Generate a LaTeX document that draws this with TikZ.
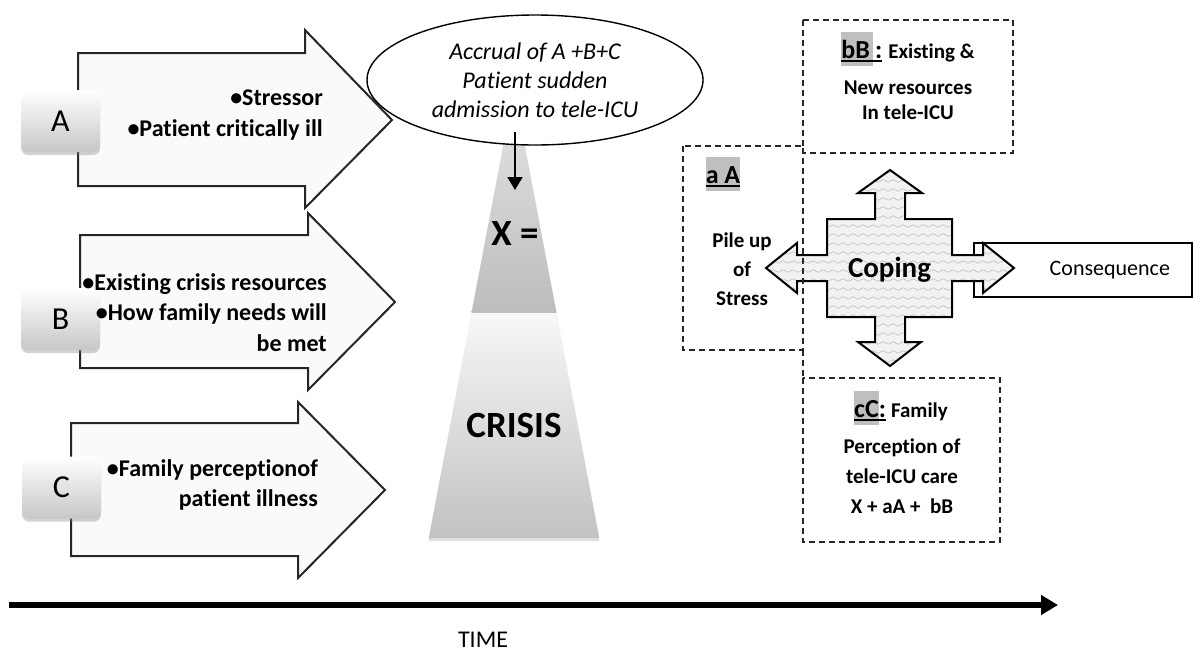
\documentclass[tikz,border=0pt]{standalone}
\usepackage{fontspec}
\setmainfont{Carlito}[Ligatures=NoCommon]
\usetikzlibrary{shapes.geometric,arrows.meta,shadows,decorations.pathmorphing}
\newcommand\fsz[2]{\fontsize{#1}{#2}\selectfont}
\definecolor{hl}{HTML}{BFBFBF}
\definecolor{edge}{HTML}{262626}
\newcommand\hlul[2]{%
  \setbox0=\hbox{{\setlength\fboxsep{0pt}\colorbox{hl}{\rule[-0.3em]{0pt}{1.3em}#1}}#2}%
  \dimen0=\wd0
  \box0\hspace{-\dimen0}\rule[-0.16em]{\dimen0}{0.07em}}
\begin{document}
\begin{tikzpicture}[x=1pt,y=-1pt,
  bigarrow/.style={draw=edge, line width=2pt, fill=black!2, line join=miter},
  letterbox/.style={rounded corners=7pt, top color=white, bottom color=black!22, draw=none,
    drop shadow={opacity=0.35,shadow xshift=0pt,shadow yshift=-3pt},
    minimum width=79pt, minimum height=62pt, inner sep=0pt, font=\fsz{32}{36}},
  bullets/.style={inner sep=0pt, align=right, font=\bfseries\fsz{24}{30.5}},
  dashedbox/.style={draw=black!85, line width=1.6pt, dash pattern=on 6pt off 4pt},
  boldtxt/.style={inner sep=0pt, align=center, font=\bfseries\fsz{21}{25}},
  crossp/.style={insert path={(890,170) -- (922,193) -- (905,193) -- (905,219) -- (952,219) -- (952,255)
     -- (983,255) -- (983,243) -- (1014,268) -- (983,293) -- (983,281) -- (952,281) -- (952,317)
     -- (905,317) -- (905,342) -- (921,342) -- (890,366) -- (858,342) -- (875,342) -- (875,317)
     -- (827,317) -- (827,281) -- (797,281) -- (797,293) -- (766,268) -- (797,243) -- (797,255)
     -- (827,255) -- (827,219) -- (875,219) -- (875,193) -- (858,193) -- cycle}},
  wavy/.style={draw=black!25, line width=0.6pt, decorate,
     decoration={snake, amplitude=1.3pt, segment length=10pt}}
]
\useasboundingbox (0,0) rectangle (1202,654);

% left arrows
\draw[bigarrow] (78,53) -- (305,53) -- (305,30) -- (392,120) -- (305,208) -- (305,186) -- (78,186) -- cycle;
\draw[bigarrow] (80,235) -- (308,235) -- (308,213) -- (395,302) -- (308,390) -- (308,368) -- (80,368) -- cycle;
\draw[bigarrow] (71,423) -- (298,423) -- (298,402) -- (385,490) -- (298,578) -- (298,556) -- (71,556) -- cycle;

\node[letterbox] (boxA) at (60.5,121) {A};
\node[letterbox] (boxB) at (60.5,319) {B};
\node[letterbox] (boxC) at (61.5,487.5) {C};

\node[bullets, anchor=east] (tA) at (323,115) {•Stressor\\•Patient critically ill};
\node[bullets, anchor=east] (tB) at (327,312.5) {•Existing crisis resources\\•How family needs will\\be met};
\node[bullets, anchor=east] (tC) at (318,485) {•Family perceptionof\\patient illness};

% crisis triangle
\path[top color=black!10, bottom color=black!26] (514,89) -- (556.6,313) -- (471.4,313) -- cycle;
\path[top color=black!3, bottom color=black!24,
  drop shadow={opacity=0.25,shadow xshift=0pt,shadow yshift=-3pt}]
  (471.4,313) -- (556.6,313) -- (599.3,538) -- (428.7,538) -- cycle;
\node[inner sep=0pt, font=\bfseries\fsz{37}{40}] (X) at (515,233) {X =};
\node[inner sep=0pt, font=\bfseries\fsz{37}{40}] (crisis) at (514,425) {CRISIS};

% ellipse
\node[draw, ellipse, line width=1.4pt, fill=white, minimum width=336pt, minimum height=130pt,
  inner sep=0pt, align=center, font=\itshape\fsz{24}{29}] (ell) at (535,80)
  {Accrual of A +B+C\\Patient sudden\\admission to tele-ICU};
\coordinate (arrS) at (515,132);
\coordinate (arrE) at (515,190);
\draw[line width=2pt, -{Triangle[length=13pt,width=15pt]}] (arrS) -- (arrE);

% consequence box
\node[draw, line width=2pt, minimum height=54pt, text width=174pt, inner xsep=22pt, inner ysep=0pt,
  align=right, font=\fsz{22}{26}] (cons) at (1083,270) {Consequence};

% coping cross
\fill[black!5, crossp];
\begin{scope}
  \clip[crossp];
  \foreach \yy in {172,181,...,370} {\draw[wavy] (760,\yy) -- (1020,\yy);}
\end{scope}
\draw[line width=2pt, line join=miter, crossp];
\node[inner sep=0pt, font=\bfseries\fsz{29}{32}] (coping) at (889.5,270) {Coping};
\node[boldtxt, font=\bfseries\fsz{21}{29}] (pile) at (742,269) {Pile up\\of\\Stress};

% dashed boxes
\draw[dashedbox] (803,20) rectangle (1013,153);
\draw[dashedbox] (683,146) rectangle (803,350);
\draw[dashedbox] (803,350) -- (803,378);
\draw[dashedbox] (803,378) rectangle (1000,542);

\node[inner sep=0pt, anchor=base, font=\bfseries] (bB1) at (908,58)
  {{\fsz{26}{31}\hlul{bB\hspace{0.12em}}{\hspace{0.08em}:}}\hspace{6pt}{\fsz{21}{25}Existing \&}};
\node[boldtxt] (bB2) at (908,100) {New resources\\In tele-ICU};

\node[inner sep=0pt, anchor=base, font=\bfseries\fsz{26}{31}] (aA) at (723,183) {\hlul{a A}{}};

\node[inner sep=0pt, anchor=base, font=\bfseries] (cC1) at (901,417)
  {{\fsz{26}{31}\hlul{cC}{:}}\hspace{5pt}{\fsz{21}{25}Family}};
\node[boldtxt, font=\bfseries\fsz{21}{30}] (cC2) at (902,476) {Perception of\\tele-ICU care\\X + aA +\ \ bB};

% time axis
\coordinate (t0) at (9,605);
\coordinate (t1) at (1058,605);
\draw[line width=5.5pt, -{Triangle[length=17pt,width=19pt]}] (t0) -- (t1);
\node[inner sep=0pt, font=\fsz{24}{28}] (time) at (483,640) {TIME};
\end{tikzpicture}
\end{document}
